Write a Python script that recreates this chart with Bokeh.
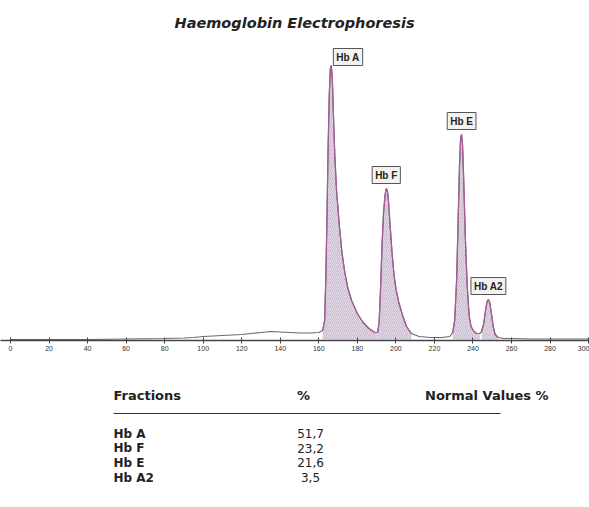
from bokeh.plotting import figure
from bokeh.layouts import column
from bokeh.models import Range1d, FixedTicker, Label, ColumnDataSource
from bokeh.core.properties import value
from bokeh.embed import file_html
from bokeh.resources import INLINE

# ---- data ----
trace_x = [0, 20, 40, 60, 80, 90, 95, 100, 105, 110, 120, 130, 135, 140, 145, 150, 155, 160,
           162, 163, 163.6, 164.2, 164.8, 165.4, 166, 166.5, 167, 167.6, 168.3, 169.2, 170.5,
           172, 173.5, 175, 177, 180, 183, 186, 189, 190.5,
           191.3, 192, 192.8, 193.6, 194.4, 195, 195.6, 196.2, 197, 198, 199, 200, 201.5,
           203.5, 205.5, 208, 212, 218, 224, 228,
           229.5, 230.5, 231.5, 232.3, 233, 233.6, 234.1, 234.6, 235.2, 236, 237, 238, 239,
           240.5, 242, 243.5,
           244.5, 245.5, 246.5, 247.3, 248, 248.7, 249.5, 250.5, 251.5, 253,
           256, 260, 270, 280, 290, 300]
trace_y = [1, 1, 1, 1.5, 2, 2.5, 3, 4, 4.5, 5, 6, 8, 9, 8.5, 8, 7.5, 7.5, 8,
           10, 20, 60, 120, 190, 245, 272, 275, 262, 225, 185, 150, 118,
           88, 68, 53, 40, 27, 18, 12, 8, 8,
           18, 50, 95, 128, 146, 152, 150, 138, 115, 88, 66, 52, 38,
           25, 14, 7, 4, 3, 3, 4,
           8, 20, 60, 120, 175, 203, 206, 195, 160, 105, 55, 25, 14,
           9, 7, 7,
           9, 16, 30, 39, 41, 38, 28, 14, 6, 3,
           2, 2, 1.5, 1.5, 1.5, 1.5]

peak_names = ["Hb A", "Hb F", "Hb E", "Hb A2"]
peak_x = [166.5, 195, 234.1, 248]
peak_h = [275, 152, 206, 41]
peak_from = [162, 190.5, 228.5, 244]
peak_to = [190.5, 208, 244, 253]

axis_ticks = [0, 20, 40, 60, 80, 100, 120, 140, 160, 180, 200, 220, 240, 260, 280, 300]

fractions = ["Hb A", "Hb F", "Hb E", "Hb A2"]
percents = ["51,7", "23,2", "21,6", "3,5"]

# ---- electropherogram ----
W = 589
p = figure(width=W, height=378, output_backend="svg", toolbar_location=None,
           x_range=Range1d(-5.19, 300.47), y_range=Range1d(0, 340),
           min_border_left=0, min_border_right=0, min_border_top=0, min_border_bottom=38,
           y_axis_location=None)
p.outline_line_color = None
p.xgrid.visible = False
p.ygrid.visible = False
p.background_fill_color = "white"
p.border_fill_color = "white"

for a, b in zip(peak_from, peak_to):
    xs = [x for x in trace_x if a <= x <= b]
    ys = [y for x, y in zip(trace_x, trace_y) if a <= x <= b]
    p.varea(x=xs, y1=[1] * len(xs), y2=ys, fill_color="#e2d7e5", fill_alpha=1.0,
            hatch_pattern="/", hatch_color="#9a8ea2", hatch_alpha=0.6,
            hatch_scale=4, hatch_weight=0.6)

p.line(trace_x, trace_y, line_color="#6a6a6a", line_width=1.2)
for a, b in zip(peak_from, peak_to):
    xs = [x for x in trace_x if a <= x <= b]
    ys = [y for x, y in zip(trace_x, trace_y) if a <= x <= b]
    p.line(xs, ys, line_color="#a85a98", line_width=1.2)

ax = p.xaxis[0]
ax.ticker = FixedTicker(ticks=axis_ticks)
ax.axis_line_color = "#444444"
ax.axis_line_width = 1.5
ax.major_tick_in = 3
ax.major_tick_out = 3
ax.major_tick_line_color = "#444444"
ax.minor_tick_line_color = None
ax.major_label_text_font_size = "7px"
ax.major_label_text_color = "#333333"
ax.major_label_standoff = 2
ax.major_label_text_font = "Liberation Sans"

for name, x, h in zip(peak_names, peak_x, peak_h):
    first = name == "Hb A"
    p.add_layout(Label(x=x, y=h if first else h + 5, text=name,
                       text_align="left" if first else "center", x_offset=2 if first else 0,
                       text_baseline="bottom",
                       text_font="Liberation Sans", text_font_style="bold",
                       text_font_size="10px", text_color="#222222",
                       background_fill_color="#f2f2f2", border_line_color="#555555",
                       border_line_width=1, padding=3))

p.add_layout(Label(x=147.4, y=318, text="Haemoglobin Electrophoresis", text_align="center",
                   text_baseline="middle", text_font="DejaVu Sans", text_font_style="bold italic",
                   text_font_size="14.5px", text_color="#222222"))

# ---- results table ----
t = figure(width=W, height=129, output_backend="svg", toolbar_location=None,
           x_range=Range1d(0, W), y_range=Range1d(129, 0),
           min_border_left=0, min_border_right=0, min_border_top=0, min_border_bottom=0,
           x_axis_location=None, y_axis_location=None)
t.outline_line_color = None
t.xgrid.visible = False
t.ygrid.visible = False

t.text(x=[113], y=[17], text=["Fractions"], text_font=value("DejaVu Sans"),
       text_font_style="bold", text_font_size="13px", text_baseline="middle",
       text_align="left", text_color="#222222")
t.text(x=[303], y=[17], text=["%"], text_font=value("DejaVu Sans"),
       text_font_style="bold", text_font_size="13px", text_baseline="middle",
       text_align="center", text_color="#222222")
t.text(x=[548], y=[17], text=["Normal Values %"], text_font=value("DejaVu Sans"),
       text_font_style="bold", text_font_size="13px", text_baseline="middle",
       text_align="right", text_color="#222222")
t.segment(x0=[113], y0=[35], x1=[500], y1=[35], line_color="#333333", line_width=1.2)

row_y = [55 + i * 14.7 for i in range(len(fractions))]
src = ColumnDataSource(dict(y=row_y, f=fractions, v=percents,
                            xf=[113] * len(fractions), xv=[310] * len(fractions)))
t.text(x="xf", y="y", text="f", source=src, text_font=value("DejaVu Sans"),
       text_font_style="bold", text_font_size="12px", text_baseline="middle",
       text_align="left", text_color="#222222")
t.text(x="xv", y="y", text="v", source=src, text_font=value("DejaVu Sans"),
       text_font_size="12px", text_baseline="middle", text_align="center",
       text_color="#222222")

layout = column(p, t, spacing=0)
open("out.html", "w").write(file_html(layout, INLINE))
